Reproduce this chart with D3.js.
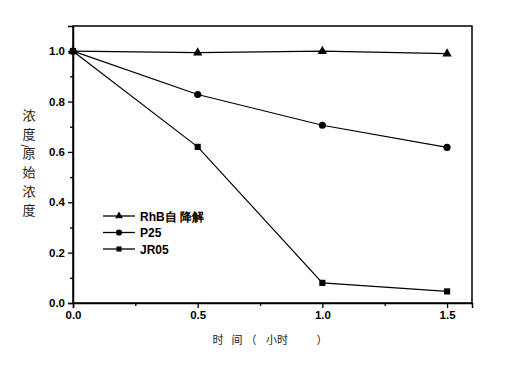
<!DOCTYPE html>
<html>
<head>
<meta charset="utf-8">
<script src="https://cdn.jsdelivr.net/npm/d3@7/dist/d3.min.js"></script>
<style>
  body { margin: 0; background: #fff; }
</style>
</head>
<body>
<div id="chart"></div>
<script>
const times = [0, 0.5, 1.0, 1.5];
const rhbValues = [1.0, 0.994, 1.0, 0.99];
const p25Values = [1.0, 0.828, 0.706, 0.618];
const jr05Values = [1.0, 0.62, 0.08, 0.046];
const seriesNames = ['RhB自 降解', 'P25', 'JR05'];
const seriesSymbols = [d3.symbolTriangle, d3.symbolCircle, d3.symbolSquare];
const xTicks = [0, 0.5, 1.0, 1.5];
const yTicks = [0, 0.2, 0.4, 0.6, 0.8, 1.0];
const yTitleChars = ['浓', '度', '原', '始', '浓', '度'];
const xTitleParts = ['时', '间', '（', '小时', '）'];

const width = 506, height = 378;
const margin = { left: 73, right: 34, top: 26, bottom: 75 };

const x = d3.scaleLinear().domain([0, 1.6]).range([margin.left, width - margin.right]);
const y = d3.scaleLinear().domain([0, 1.1]).range([height - margin.bottom, margin.top]);

const svg = d3.select('#chart')
  .append('svg')
  .attr('width', width)
  .attr('height', height)
  .attr('font-family', 'Liberation Sans, Arial, sans-serif');

// frame
svg.append('rect')
  .attr('x', x(0))
  .attr('y', y(1.1))
  .attr('width', x(1.6) - x(0))
  .attr('height', y(0) - y(1.1))
  .attr('fill', 'none')
  .attr('stroke', '#000')
  .attr('stroke-width', 1.5);

// x axis
svg.append('g')
  .attr('transform', `translate(0,${y(0)})`)
  .call(d3.axisBottom(x).tickValues(xTicks).tickFormat(d3.format('.1f')).tickSize(5).tickPadding(3));
svg.append('g')
  .attr('transform', `translate(0,${y(0)})`)
  .call(d3.axisBottom(x).tickValues([0.25, 0.75, 1.25]).tickFormat('').tickSize(3))
  .call(g => g.select('.domain').remove());

// y axis
svg.append('g')
  .attr('transform', `translate(${x(0)},0)`)
  .call(d3.axisLeft(y).tickValues(yTicks).tickFormat(d3.format('.1f')).tickSize(5).tickPadding(3));
svg.append('g')
  .attr('transform', `translate(${x(0)},0)`)
  .call(d3.axisLeft(y).tickValues([0.1, 0.3, 0.5, 0.7, 0.9]).tickFormat('').tickSize(3))
  .call(g => g.select('.domain').remove());

svg.selectAll('.domain').attr('stroke-width', 1.5);
svg.selectAll('.tick line').attr('stroke-width', 1.3);
svg.selectAll('.tick text')
  .attr('font-size', 11.5)
  .attr('font-weight', 'bold')
  .attr('fill', '#000');

// series
const series = [rhbValues, p25Values, jr05Values];
const line = d3.line()
  .x((d, i) => x(times[i]))
  .y(d => y(d));

series.forEach((vals, k) => {
  svg.append('path')
    .attr('d', line(vals))
    .attr('fill', 'none')
    .attr('stroke', '#000')
    .attr('stroke-width', 1.2);

  svg.selectAll(null)
    .data(vals)
    .join('path')
    .attr('transform', (d, i) => `translate(${x(times[i])},${y(d)})`)
    .attr('d', d3.symbol().type(seriesSymbols[k]).size(k === 1 ? 40 : 38))
    .attr('fill', '#000');
});

// legend
const legend = svg.append('g').attr('transform', 'translate(103,216)');
seriesNames.forEach((name, k) => {
  const row = legend.append('g').attr('transform', `translate(0,${k * 16.5})`);
  row.append('line')
    .attr('x1', 0).attr('x2', 32)
    .attr('stroke', '#000').attr('stroke-width', 1.3);
  row.append('path')
    .attr('transform', 'translate(16,0)')
    .attr('d', d3.symbol().type(seriesSymbols[k]).size(k === 1 ? 30 : 26))
    .attr('fill', '#000');
  row.append('text')
    .attr('x', 37)
    .attr('y', 4.5)
    .attr('font-size', 12)
    .attr('font-weight', 'bold')
    .attr('fill', '#000')
    .attr('xml:space', 'preserve')
    .text(name);
});

// x axis title
const xTitlePos = [218, 237, 251, 277, 322];
svg.append('g')
  .selectAll('text')
  .data(xTitleParts)
  .join('text')
  .attr('x', (d, i) => xTitlePos[i])
  .attr('y', 344)
  .attr('text-anchor', 'middle')
  .attr('font-size', 11)
  .attr('font-family', 'Noto Sans CJK SC, sans-serif')
  .attr('fill', '#222')
  .text(d => d);

// y axis title, stacked characters
svg.append('g')
  .selectAll('text')
  .data(yTitleChars)
  .join('text')
  .attr('x', 29)
  .attr('y', (d, i) => 120 + i * 19)
  .attr('text-anchor', 'middle')
  .attr('font-size', 13)
  .attr('font-family', 'Noto Sans CJK SC, sans-serif')
  .attr('fill', '#222')
  .text(d => d);
// slash between 度 and 原, turned for vertical writing
svg.append('text')
  .attr('transform', 'translate(25,146) rotate(90)')
  .attr('text-anchor', 'middle')
  .attr('dominant-baseline', 'central')
  .attr('font-size', 11)
  .attr('fill', '#222')
  .text('/');
</script>
</body>
</html>
